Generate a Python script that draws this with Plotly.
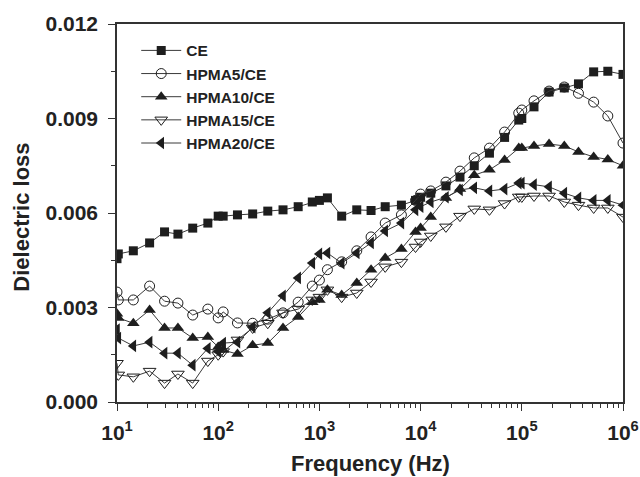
import plotly.graph_objects as go

freq = [10, 10.3, 14.5, 21, 29.5, 40, 56, 79, 100, 112, 155, 219, 309, 437, 617, 851,
        1000, 1200, 1660, 2340, 3240, 4470, 6460, 8910, 10000, 12600, 17800, 24500,
        33900, 47900, 67600, 93300, 100000, 132000, 186000, 263000, 363000, 513000,
        708000, 1000000]

ce = [0.00455, 0.0047, 0.0048, 0.00505, 0.0054, 0.00533, 0.00552, 0.00568, 0.0059, 0.0059,
      0.00594, 0.00597, 0.00606, 0.0061, 0.0062, 0.00635, 0.0064, 0.00648, 0.0059, 0.0061,
      0.00608, 0.0062, 0.00625, 0.0064, 0.0065, 0.00663, 0.00686, 0.00714, 0.0075, 0.0079,
      0.0084, 0.00895, 0.0090, 0.00937, 0.00984, 0.00997, 0.0101, 0.01048, 0.0105, 0.0104]

hpma5 = [0.00349, 0.00324, 0.00324, 0.00368, 0.0032, 0.00314, 0.00276, 0.00295, 0.00267, 0.00286,
         0.00251, 0.0025, 0.00263, 0.00283, 0.00317, 0.00368, 0.00387, 0.0042, 0.00445, 0.0048,
         0.00524, 0.00568, 0.00594, 0.0064, 0.0066, 0.0067, 0.00698, 0.00733, 0.00775, 0.00806,
         0.00857, 0.00917, 0.00927, 0.00956, 0.00987, 0.0100, 0.0098, 0.00952, 0.00908, 0.00822]

hpma10 = [0.0028, 0.00267, 0.0025, 0.00292, 0.00235, 0.00235, 0.00203, 0.00206, 0.00175, 0.00165,
          0.00152, 0.0018, 0.00187, 0.00235, 0.0027, 0.00317, 0.00324, 0.00356, 0.0034, 0.00378,
          0.0042, 0.00457, 0.00486, 0.0054, 0.00552, 0.00587, 0.00648, 0.00676, 0.0072, 0.00737,
          0.00768, 0.00806, 0.00806, 0.00813, 0.00819, 0.00813, 0.00794, 0.00778, 0.0077, 0.0075]

hpma15 = [0.00123, 0.00086, 0.0008, 0.00098, 0.0006, 0.00089, 0.0006, 0.0013, 0.0015, 0.0016,
          0.00197, 0.00235, 0.0025, 0.00283, 0.00295, 0.00324, 0.00333, 0.00356, 0.00333, 0.00346,
          0.00381, 0.00429, 0.00444, 0.00492, 0.00508, 0.00527, 0.00556, 0.0059, 0.00613, 0.0061,
          0.0063, 0.00651, 0.00651, 0.00654, 0.00654, 0.00635, 0.00625, 0.00616, 0.00616, 0.00587]

hpma20 = [0.0023, 0.00203, 0.00178, 0.0019, 0.00155, 0.00155, 0.00117, 0.0017, 0.0016, 0.00187,
          0.0019, 0.00238, 0.00283, 0.00337, 0.00394, 0.00441, 0.0047, 0.00473, 0.00441, 0.00473,
          0.00505, 0.00543, 0.00568, 0.0061, 0.0062, 0.00635, 0.0065, 0.00673, 0.0068, 0.0067,
          0.00676, 0.00695, 0.00695, 0.0069, 0.00683, 0.00663, 0.00648, 0.0064, 0.0064, 0.00625]

names = ["CE", "HPMA5/CE", "HPMA10/CE", "HPMA15/CE", "HPMA20/CE"]
series = [ce, hpma5, hpma10, hpma15, hpma20]
symbols = ["square", "circle-open", "triangle-up", "triangle-down-open", "triangle-left"]
sizes = [9, 10, 11, 11, 11]

x_tickvals = [10, 100, 1000, 10000, 100000, 1000000]
x_ticktext = ["10<sup>1</sup>", "10<sup>2</sup>", "10<sup>3</sup>", "10<sup>4</sup>",
              "10<sup>5</sup>", "10<sup>6</sup>"]
y_tickvals = [0.000, 0.003, 0.006, 0.009, 0.012]
y_ticktext = ["0.000", "0.003", "0.006", "0.009", "0.012"]

FONT = "Liberation Sans, Arial, sans-serif"
INK = "#222222"

fig = go.Figure()
for name, vals, sym, sz in zip(names, series, symbols, sizes):
    open_ = sym.endswith("open")
    fig.add_trace(go.Scatter(
        x=freq, y=vals, name=name, mode="lines+markers",
        line=dict(color="#3a3a3a", width=1),
        marker=dict(symbol=sym, size=sz, color="#1e1e1e",
                    line=dict(color="#1e1e1e", width=1 if open_ else 0)),
    ))

fig.update_layout(
    width=640, height=477,
    margin=dict(l=117, r=17, t=24, b=75),
    paper_bgcolor="white", plot_bgcolor="white",
    font=dict(family=FONT, color=INK),
    showlegend=True,
    legend=dict(x=0.038, y=0.974, xanchor="left", yanchor="top",
                bgcolor="rgba(0,0,0,0)", borderwidth=0,
                font=dict(family=FONT, size=15.5, color=INK, weight="bold"),
                tracegroupgap=0, itemwidth=40),
    xaxis=dict(type="log", range=[1, 6], tickvals=x_tickvals, ticktext=x_ticktext,
               ticks="outside", ticklen=7, tickwidth=1.3, tickcolor="#333",
               showline=True, linecolor="#333", linewidth=1.5, mirror=True,
               showgrid=False, zeroline=False, ticklabelstandoff=4, automargin=False,
               tickfont=dict(family=FONT, size=21, color=INK, weight="bold"),
               minor=dict(ticks="outside", ticklen=4, tickwidth=1, tickcolor="#333",
                          dtick="D1", showgrid=False)),
    yaxis=dict(range=[0, 0.012], tickvals=y_tickvals, ticktext=y_ticktext,
               ticks="outside", ticklen=7, tickwidth=1.3, tickcolor="#333",
               showline=True, linecolor="#333", linewidth=1.5, mirror=True,
               showgrid=False, zeroline=False, ticklabelstandoff=6, automargin=False,
               tickfont=dict(family=FONT, size=21, color=INK, weight="bold"),
               minor=dict(ticks="outside", ticklen=4, tickwidth=1, tickcolor="#333",
                          tickvals=[0.0015, 0.0045, 0.0075, 0.0105], showgrid=False)),
    annotations=[
        dict(text="Frequency (Hz)", xref="paper", yref="paper", x=0.5, y=-0.162,
             xanchor="center", yanchor="middle", showarrow=False,
             font=dict(family=FONT, size=22, color=INK, weight="bold")),
        dict(text="Dielectric loss", xref="paper", yref="paper", x=-0.188, y=0.49,
             xanchor="center", yanchor="middle", showarrow=False, textangle=-90,
             font=dict(family=FONT, size=22, color=INK, weight="bold")),
    ],
)

fig.write_html("out.html")
